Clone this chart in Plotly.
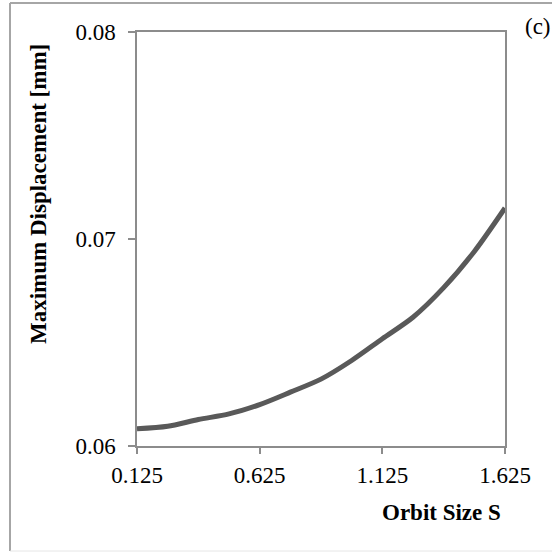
import plotly.graph_objects as go

# Orbit size S and the resulting maximum displacement (mm)
orbit_size = [0.125, 0.25, 0.375, 0.5, 0.625, 0.75, 0.875, 1.0, 1.125, 1.25, 1.375, 1.5, 1.625]
max_displacement = [0.06083, 0.06095, 0.06128, 0.06155, 0.06200, 0.06260, 0.06323,
                    0.06413, 0.06518, 0.06622, 0.06765, 0.06940, 0.07150]

x_ticks = [0.125, 0.625, 1.125, 1.625]
x_tick_text = ["0.125", "0.625", "1.125", "1.625"]
y_ticks = [0.06, 0.07, 0.08]
y_tick_text = ["0.06", "0.07", "0.08"]

FONT = "Liberation Serif"
AXIS_GRAY = "#8c8c8c"
FS = 23

fig = go.Figure()
fig.add_trace(go.Scatter(
    x=orbit_size, y=max_displacement, mode="lines",
    line=dict(color="#595959", width=5, shape="spline", smoothing=0.8),
    showlegend=False, hoverinfo="skip",
))

# plot area in pixels
L, R, T, B = 137, 505, 32, 446
W = H = 552
pw, ph = R - L, B - T


def px(xp):
    return (xp - L) / pw


def py(yp):
    return (B - yp) / ph


fig.update_layout(
    width=W, height=H,
    margin=dict(l=L, r=W - R, t=T, b=H - B, pad=0),
    paper_bgcolor="white", plot_bgcolor="white",
    font=dict(family=FONT, size=FS, color="black"),
    xaxis=dict(
        range=[0.125, 1.625], tickvals=x_ticks, ticktext=x_tick_text,
        showgrid=False, zeroline=False, showline=True, linecolor=AXIS_GRAY,
        linewidth=1.5, mirror=True, ticks="outside", ticklen=6,
        tickcolor=AXIS_GRAY, tickwidth=1.5, tickfont=dict(size=FS),
        ticklabelstandoff=2,
    ),
    yaxis=dict(
        range=[0.06, 0.08], tickvals=y_ticks, ticktext=y_tick_text,
        showgrid=False, zeroline=False, showline=True, linecolor=AXIS_GRAY,
        linewidth=1.5, mirror=True, ticks="outside", ticklen=7,
        tickcolor=AXIS_GRAY, tickwidth=1.5, tickfont=dict(size=FS),
        ticklabelstandoff=8,
    ),
    shapes=[
        # outer figure frame
        dict(type="line", xref="paper", yref="paper", x0=px(10), x1=px(560),
             y0=py(3), y1=py(3), line=dict(color="#a6a6a6", width=2)),
        dict(type="line", xref="paper", yref="paper", x0=px(10), x1=px(10),
             y0=py(3), y1=py(551), line=dict(color="#a6a6a6", width=2)),
        dict(type="line", xref="paper", yref="paper", x0=px(10), x1=px(560),
             y0=py(551), y1=py(551), line=dict(color="#e6e6e6", width=1)),
    ],
    annotations=[
        dict(text="<b>Orbit Size S</b>", xref="paper", yref="paper",
             x=px(441), y=py(512), showarrow=False, xanchor="center",
             yanchor="middle", font=dict(size=FS)),
        dict(text="<b>Maximum Displacement [mm]</b>", xref="paper", yref="paper",
             x=px(39), y=py(194), showarrow=False, textangle=-90,
             xanchor="center", yanchor="middle", font=dict(size=FS)),
        dict(text="(c)", xref="paper", yref="paper", x=px(523), y=py(27),
             showarrow=False, xanchor="left", yanchor="middle",
             font=dict(size=FS)),
    ],
)

fig.write_html("out.html")
